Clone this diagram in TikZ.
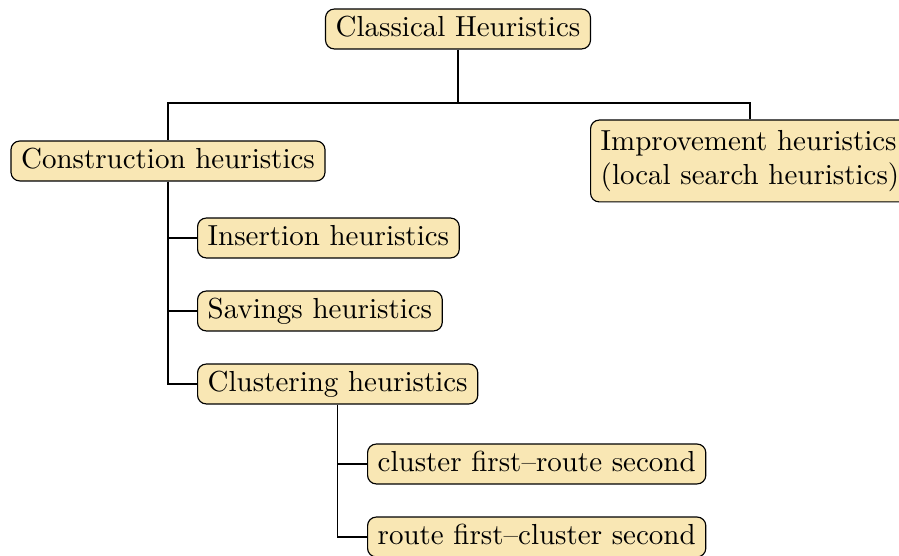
\documentclass[tikz,border=0pt]{standalone}
\usepackage{tikz}
\usetikzlibrary{calc}
\definecolor{boxfill}{RGB}{249,231,180}
\tikzset{
  heur/.style={draw, fill=boxfill, rounded corners=3pt, inner xsep=3.5pt, inner ysep=3pt,
    text height=1.5ex, text depth=.3ex},
  heurtwo/.style={draw, fill=boxfill, rounded corners=3pt, inner xsep=3.5pt, inner ysep=3.4pt, align=left},
}

\begin{document}
\begin{tikzpicture}[x=0.345pt, y=-0.345pt]
    \useasboundingbox (0,0) rectangle (899,556);

    % top level
    \node[heur] (root) at (458,29) {Classical Heuristics};
    \coordinate (split) at (458,103);
    \node[heur] (cons) at (168,161) {Construction heuristics};
    \node[heurtwo, anchor=west] (impr) at (590,161) {Improvement heuristics\\(local search heuristics)};

    \draw (root.south) -- (split);
    \draw (split) -| (cons.north);
    \draw (split) -| (impr.north);

    % construction heuristics
    \node[heur, anchor=west] (ins) at (197,238) {Insertion heuristics};
    \node[heur, anchor=west] (sav) at (197,311) {Savings heuristics};
    \node[heur, anchor=west] (clus) at (197,384) {Clustering heuristics};
    \foreach \n in {ins,sav,clus}{
      \draw (cons.south) |- (\n.west);
    }

    % clustering heuristics
    \node[heur, anchor=west] (cfrs) at (367,464) {cluster first--route second};
    \node[heur, anchor=west] (rfcs) at (367,537) {route first--cluster second};
    \foreach \n in {cfrs,rfcs}{
      \draw (clus.south) |- (\n.west);
    }
\end{tikzpicture}
\end{document}
